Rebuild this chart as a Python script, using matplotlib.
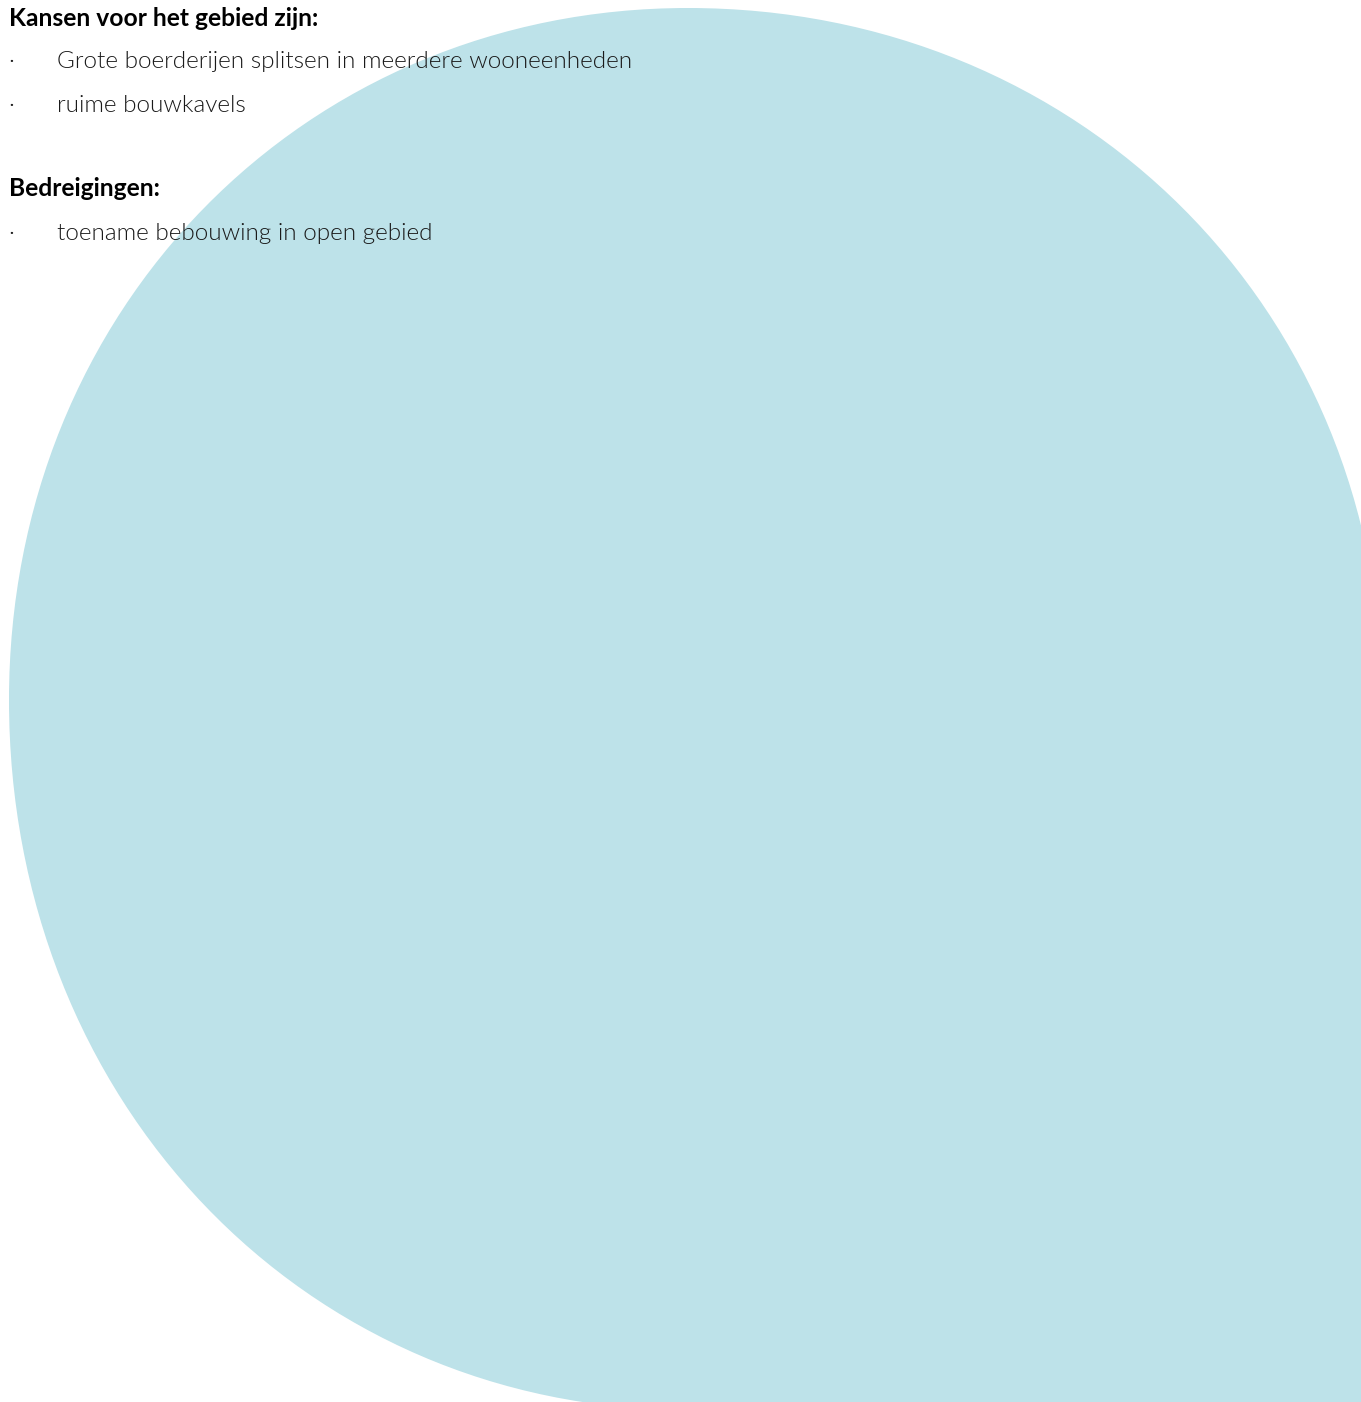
import matplotlib
matplotlib.use("Agg")
import matplotlib.pyplot as plt
from matplotlib.path import Path
from matplotlib.patches import PathPatch

W, H = 1361, 1402

# tekst
kop_kansen = "Kansen voor het gebied zijn:"
kansen = ["Grote boerderijen splitsen in meerdere wooneenheden", "ruime bouwkavels"]
kop_bedreigingen = "Bedreigingen:"
bedreigingen = ["toename bebouwing in open gebied"]

# blob: three rounded quarters, square bottom-right corner
cx, cy = 688, 700
rx_l, rx_r = 679, 694
ry_t, ry_b = 692, 710
k = 0.565
blauw = "#bde2e9"

fig = plt.figure(figsize=(W / 100, H / 100), dpi=100)
ax = fig.add_axes([0, 0, 1, 1])
ax.set_xlim(0, W)
ax.set_ylim(H, 0)
ax.axis("off")

verts = [
    (cx - rx_l, cy),
    (cx - rx_l, cy - k * ry_t), (cx - k * rx_l, cy - ry_t), (cx, cy - ry_t),
    (cx + k * rx_r, cy - ry_t), (cx + rx_r, cy - k * ry_t), (cx + rx_r, cy),
    (cx + rx_r, cy + ry_b),
    (cx, cy + ry_b),
    (cx - k * rx_l, cy + ry_b), (cx - rx_l, cy + k * ry_b), (cx - rx_l, cy),
    (cx - rx_l, cy),
]
codes = [Path.MOVETO] + [Path.CURVE4] * 6 + [Path.LINETO, Path.LINETO] + [Path.CURVE4] * 3 + [Path.CLOSEPOLY]
ax.add_patch(PathPatch(Path(verts, codes), facecolor=blauw, edgecolor="none"))

fs = 17.5
kleur = "#1a1a1a"

def kop(y, s):
    ax.text(9, y, s, fontsize=17.7, fontfamily="Lato", fontweight="bold",
            color="black", va="center", ha="left")

def punt(y, s):
    ax.text(8, y, "\u00b7", fontsize=fs, fontfamily="Lato", fontweight=350,
            color=kleur, va="center", ha="left")
    ax.text(57, y, s, fontsize=fs, fontfamily="Lato", fontweight=350,
            color=kleur, va="center", ha="left")

kop(19, kop_kansen)
y = 62
for s in kansen:
    punt(y, s)
    y += 43
kop(189, kop_bedreigingen)
y = 233
for s in bedreigingen:
    punt(y, s)
    y += 43

fig.savefig("out.png", dpi=100)
